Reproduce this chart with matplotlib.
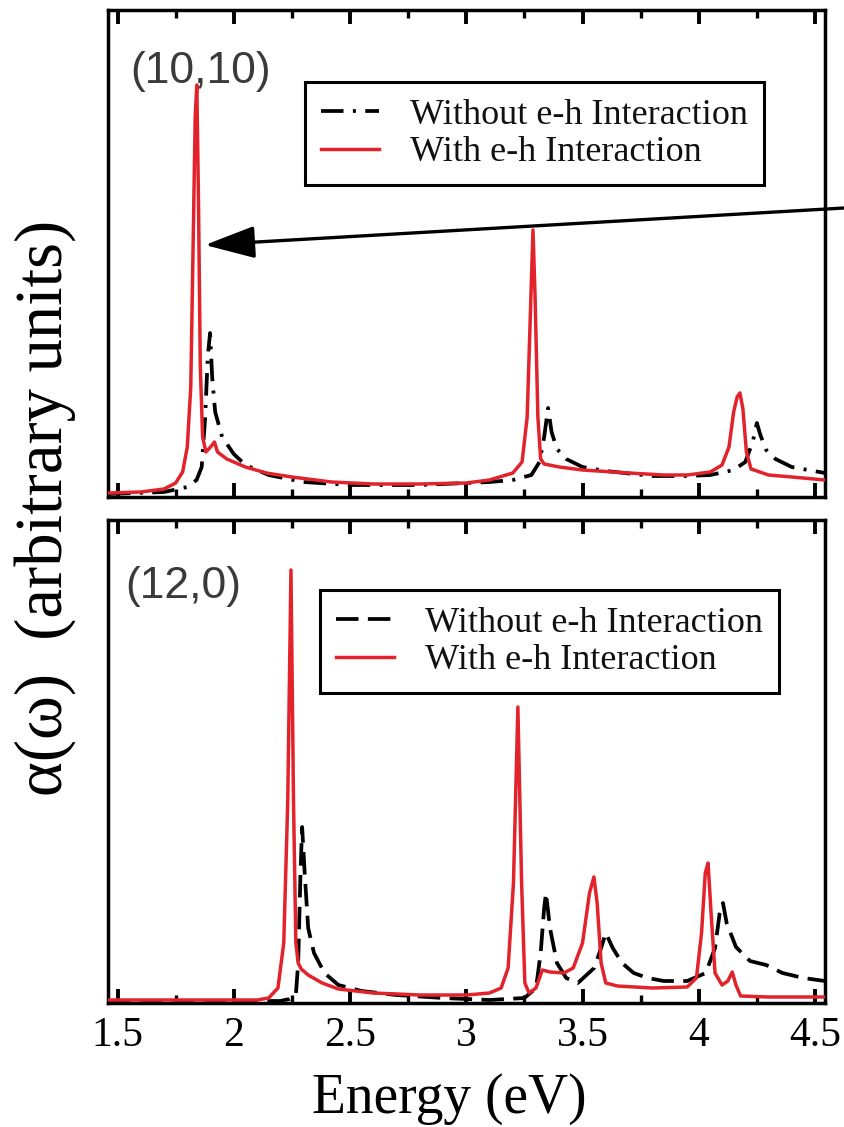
import matplotlib
matplotlib.use("Agg")
import matplotlib.pyplot as plt
from matplotlib.ticker import MultipleLocator

# ---------------- data (arbitrary units) ----------------
# (10,10) tube
e_top_red = [1.459, 1.60, 1.70, 1.75, 1.78, 1.80, 1.815, 1.825, 1.834, 1.841, 1.848, 1.856, 1.866, 1.88,
             1.90, 1.917, 1.93, 1.97, 2.05, 2.14, 2.25, 2.42, 2.6, 2.8, 3.0, 3.1, 3.2, 3.24, 3.262,
             3.278, 3.287, 3.296, 3.308, 3.32, 3.335, 3.4, 3.5, 3.7, 3.85, 3.95, 4.05, 4.10, 4.13,
             4.15, 4.165, 4.177, 4.19, 4.205, 4.225, 4.3, 4.4, 4.543]
a_top_red = [4, 5, 8, 14, 25, 50, 110, 250, 380, 412, 300, 130, 60, 45,
             50, 55, 45, 38, 30, 24, 20, 15, 13, 13, 14, 17, 24, 35, 80,
             200, 267, 200, 80, 38, 33, 30, 27, 24, 22, 22, 25, 32, 50,
             85, 100, 104, 88, 45, 28, 22, 20, 17]

e_top_blk = [1.459, 1.70, 1.80, 1.84, 1.862, 1.877, 1.888, 1.898, 1.907, 1.92, 1.95, 2.0, 2.05, 2.15,
             2.3, 2.5, 2.8, 3.0, 3.1, 3.2, 3.28, 3.315, 3.335, 3.352, 3.367, 3.39, 3.43, 3.5, 3.6,
             3.8, 3.95, 4.05, 4.15, 4.2, 4.232, 4.25, 4.265, 4.29, 4.33, 4.40, 4.47, 4.543]
a_top_blk = [3, 5, 10, 17, 30, 80, 140, 164, 120, 85, 60, 43, 32, 22,
             15, 12, 12, 14, 15, 17, 22, 35, 60, 89, 65, 48, 38, 30, 26,
             21, 21, 22, 27, 35, 55, 74, 62, 47, 38, 30, 27, 24]

# (12,0) tube
e_bot_red = [1.459, 2.10, 2.15, 2.19, 2.215, 2.232, 2.246, 2.257, 2.267, 2.277, 2.29, 2.32, 2.38, 2.45,
             2.6, 2.8, 3.0, 3.1, 3.15, 3.18, 3.203, 3.222, 3.238, 3.252, 3.27, 3.30, 3.327, 3.36,
             3.42, 3.46, 3.50, 3.53, 3.549, 3.563, 3.58, 3.60, 3.65, 3.8, 3.95, 3.99, 4.012, 4.028,
             4.04, 4.053, 4.07, 4.10, 4.125, 4.144, 4.16, 4.18, 4.3, 4.543]
a_bot_red = [3, 3, 5, 15, 60, 200, 433, 200, 60, 40, 34, 28, 20, 14,
             10, 8, 8, 10, 15, 35, 120, 296, 120, 20, 10, 15, 33, 31,
             30, 35, 60, 110, 126, 100, 40, 20, 17, 15, 16, 25, 70, 130,
             140, 90, 30, 18, 22, 31, 18, 7, 6, 6]

e_bot_blk = [1.459, 2.20, 2.24, 2.267, 2.277, 2.287, 2.294, 2.305, 2.32, 2.345, 2.39, 2.45, 2.55, 2.7,
             2.9, 3.1, 3.25, 3.30, 3.32, 3.335, 3.343, 3.36, 3.39, 3.43, 3.48, 3.55, 3.58, 3.60,
             3.63, 3.67, 3.72, 3.78, 3.85, 3.95, 4.03, 4.07, 4.09, 4.104, 4.12, 4.16, 4.22, 4.29,
             4.36, 4.45, 4.543]
a_bot_blk = [2, 2, 4, 8, 40, 130, 176, 130, 75, 50, 30, 18, 12, 8,
             5, 3, 5, 15, 50, 95, 110, 75, 40, 25, 20, 35, 55, 70,
             55, 40, 30, 25, 22, 22, 30, 55, 90, 100, 80, 56, 42, 38,
             30, 25, 22]

x_ticks = [1.5, 2, 2.5, 3, 3.5, 4, 4.5]
x_tick_labels = ["1.5", "2", "2.5", "3", "3.5", "4", "4.5"]
panel_labels = ["(10,10)", "(12,0)"]
legend_labels = ["Without e-h Interaction", "With e-h Interaction"]

# ---------------- figure ----------------
W, H = 844, 1127
fig = plt.figure(figsize=(W / 100, H / 100), dpi=100)

serif = ["Liberation Serif", "DejaVu Serif"]
sans = ["Liberation Sans", "DejaVu Sans"]
RED = "#e3232b"

def fx(px):
    return px / W

def fy(py):
    return 1 - py / H

ax_top = fig.add_axes([fx(108), fy(497), fx(825) - fx(108), fy(10) - fy(497)])
ax_bot = fig.add_axes([fx(108), fy(1003), fx(825) - fx(108), fy(520) - fy(1003)])

ax_top.plot(e_top_blk, a_top_blk, color="black", lw=2.7, linestyle=(0, (6, 2.5, 0.8, 2.5)),
            label=legend_labels[0], zorder=2)
ax_top.plot(e_top_red, a_top_red, color=RED, lw=2.5, label=legend_labels[1], zorder=3)
ax_bot.plot(e_bot_blk, a_bot_blk, color="black", lw=2.7, linestyle=(0, (6, 2.5)),
            label=legend_labels[0], zorder=2)
ax_bot.plot(e_bot_red, a_bot_red, color=RED, lw=2.5, label=legend_labels[1], zorder=3)

ax_top.set_ylim(0, 487)
ax_bot.set_ylim(0, 483)

for ax in (ax_top, ax_bot):
    ax.set_xlim(1.459, 4.543)
    ax.set_xticks(x_ticks)
    ax.xaxis.set_minor_locator(MultipleLocator(0.25))
    ax.set_yticks([])
    ax.tick_params(axis="x", which="major", direction="in", top=True, bottom=True,
                   length=10, width=2.8, pad=10)
    ax.tick_params(axis="x", which="minor", direction="in", top=True, bottom=True,
                   length=6, width=2.4)
    for s in ax.spines.values():
        s.set_linewidth(2.5)
        s.set_color("black")

ax_top.set_xticklabels([])
ax_bot.set_xticklabels(x_tick_labels, fontfamily=serif, fontsize=30)

# legends
for ax, anchor in ((ax_top, (0.2748, 0.852)), (ax_bot, (0.2957, 0.855))):
    leg = ax.legend(loc="upper left", bbox_to_anchor=anchor, borderaxespad=0,
                    prop={"family": serif, "size": 26}, handlelength=1.6,
                    handletextpad=0.85, labelspacing=0.12, borderpad=0.45,
                    fancybox=False, framealpha=1, edgecolor="black")
    leg.get_frame().set_linewidth(2.2)
    for t in leg.get_texts():
        t.set_color("#111111")

# panel labels
ax_top.text(fx(130 - 108) / (fx(825) - fx(108)), (497 - 83) / 487, panel_labels[0],
            transform=ax_top.transAxes, fontfamily=sans, fontsize=32, color="#3c3a38",
            ha="left", va="baseline")
ax_bot.text(fx(125 - 108) / (fx(825) - fx(108)), (1003 - 598) / 483, panel_labels[1],
            transform=ax_bot.transAxes, fontfamily=sans, fontsize=32, color="#3c3a38",
            ha="left", va="baseline")

# arrow pointing at the first exciton peak
ax_top.annotate("", xy=(1.876, 252), xycoords="data",
                xytext=(1.0, fy(208)), textcoords="figure fraction",
                arrowprops=dict(arrowstyle="-|>,head_length=1.55,head_width=0.5",
                                mutation_scale=20, lw=2.4, color="black",
                                shrinkA=0, shrinkB=0),
                annotation_clip=False, zorder=5)

# axis labels
fig.text(fx(449), fy(1113), "Energy (eV)", fontfamily=serif, fontsize=40,
         ha="center", va="baseline")
fig.text(fx(45), fy(508), "α(ω)  (arbitrary units)", fontfamily=serif, fontsize=48,
         rotation=90, ha="center", va="center")

fig.savefig("out.png", dpi=100)
